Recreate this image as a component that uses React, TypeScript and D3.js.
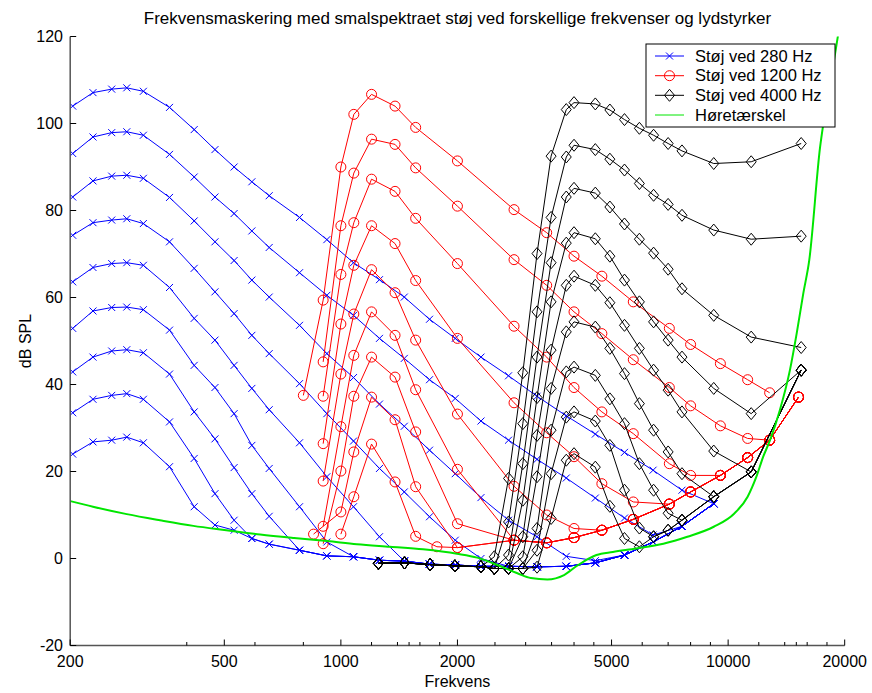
import React from "react";
import * as d3 from "d3";

// ---------- DATA ----------
const blueFreq = [203, 229, 256, 280, 309, 361, 418, 473, 530, 589, 653, 782, 920, 1078, 1258, 1458, 1694, 1974, 2300, 2710, 3210, 3820, 4540, 5400, 6400, 7600, 9180];
const blue108 = [104.0, 107.1, 107.9, 108.2, 107.4, 103.7, 98.6, 94.0, 90.0, 86.6, 83.4, 78.4, 73.3, 68.0, 64.1, 60.1, 55.0, 50.6, 46.3, 42.0, 37.3, 32.8, 28.6, 24.4, 20.3, 15.7, 12.6];
const blue98 = [93.1, 96.9, 97.9, 98.1, 97.3, 92.9, 87.7, 83.1, 79.3, 75.3, 71.5, 65.7, 60.5, 55.9, 50.6, 46.0, 41.1, 36.8, 31.6, 27.2, 22.8, 18.5, 13.9, 9.3, 5.4, 7.4, 12.6];
const blue88 = [83.1, 86.8, 87.9, 88.1, 87.4, 83.0, 77.6, 72.8, 68.5, 64.0, 60.1, 53.6, 47.1, 41.6, 35.5, 30.4, 24.9, 19.5, 14.0, 8.8, 5.0, 0.5, -0.5, 0.8, 3.8, 7.4, 12.6];
const blue78 = [74.3, 77.2, 77.8, 78.1, 77.0, 72.8, 66.7, 61.3, 56.3, 51.3, 47.1, 40.2, 33.3, 27.0, 20.7, 15.3, 9.6, 4.2, 0.0, -1.8, -1.9, -1.8, -1.0, 0.8, 3.8, 7.4, 12.6];
const blue68 = [63.6, 66.9, 67.8, 68.0, 67.4, 62.3, 55.2, 50.2, 44.4, 39.1, 34.2, 26.6, 18.8, 11.9, 5.0, -0.6, -1.3, -1.5, -1.8, -1.8, -1.9, -1.8, -1.0, 0.8, 3.8, 7.4, 12.6];
const blue58 = [52.9, 56.9, 57.7, 57.8, 57.2, 52.5, 44.4, 39.3, 33.3, 26.0, 20.7, 11.9, 3.8, 0.4, -0.4, -0.6, -1.3, -1.5, -1.8, -1.8, -1.9, -1.8, -1.0, 0.8, 3.8, 7.4, 12.6];
const blue48 = [42.9, 46.3, 47.7, 48.0, 47.3, 42.4, 33.7, 27.5, 20.9, 14.9, 9.7, 1.9, 0.6, 0.4, -0.4, -0.6, -1.3, -1.5, -1.8, -1.8, -1.9, -1.8, -1.0, 0.8, 3.8, 7.4, 12.6];
const blue38 = [33.5, 36.6, 37.5, 37.9, 36.6, 31.4, 23.0, 14.9, 8.8, 4.6, 3.3, 1.9, 0.6, 0.4, -0.4, -0.6, -1.3, -1.5, -1.8, -1.8, -1.9, -1.8, -1.0, 0.8, 3.8, 7.4, 12.6];
const blue28 = [24.0, 26.8, 27.2, 27.9, 26.6, 21.1, 11.9, 7.7, 6.5, 4.6, 3.3, 1.9, 0.6, 0.4, -0.4, -0.6, -1.3, -1.5, -1.8, -1.8, -1.9, -1.8, -1.0, 0.8, 3.8, 7.4, 12.6];

const redFreq = [800, 850, 900, 1000, 1080, 1200, 1380, 1560, 1770, 2000, 2800, 3400, 4000, 4720, 5690, 7050, 8000, 9550, 11230, 12800, 15200];
const red106 = [37.5, null, 59.4, 90.0, 102.1, 106.7, 104.0, 99.1, null, 91.4, 80.2, 74.9, 69.5, 64.9, 59.0, 52.9, 49.2, 44.8, 41.1, 38.1, null];
const red96 = [null, null, 45.2, 76.5, 88.6, 96.4, 95.2, 89.8, null, 81.0, 68.7, 62.8, 56.7, 51.7, 45.7, 39.3, 35.1, 30.5, 27.6, 27.2, 37.1];
const red86 = [null, null, 37.3, 65.3, 77.2, 87.2, 84.4, 78.2, null, 67.8, 53.4, 46.3, 39.3, 33.7, 28.7, 21.8, 19.1, 19.1, 23.2, 27.2, 37.1];
const red76 = [null, null, 26.4, 53.9, 67.4, 76.5, 72.4, 63.9, null, 50.6, 35.8, 28.9, 23.4, 17.2, 13.0, 12.5, 15.3, 19.1, 23.2, 27.2, 37.1];
const red66 = [null, null, 17.8, 42.4, 56.2, 66.4, 61.1, 50.2, null, 33.2, 16.6, 10.0, 6.9, 6.5, 9.0, 12.5, 15.3, 19.1, 23.2, 27.2, 37.1];
const red56 = [null, null, 7.4, 30.3, 46.7, 56.7, 51.3, 38.8, null, 20.5, 4.2, 3.6, 4.8, 6.5, 9.0, 12.5, 15.3, 19.1, 23.2, 27.2, 37.1];
const red46 = [null, null, 3.4, 20.1, 37.3, 46.3, 41.7, 29.1, null, 8.0, 4.2, 3.6, 4.8, 6.5, 9.0, 12.5, 15.3, 19.1, 23.2, 27.2, 37.1];
const red36 = [null, 5.6, null, 10.7, 24.5, 37.1, 31.9, 16.5, null, 2.5, 4.2, 3.6, 4.8, 6.5, 9.0, 12.5, 15.3, 19.1, 23.2, 27.2, 37.1];
const red26 = [null, null, null, 5.6, 14.2, 26.3, 17.6, 5.1, 2.7, 2.5, 4.2, 3.6, 4.8, 6.5, 9.0, 12.5, 15.3, 19.1, 23.2, 27.2, 37.1];

const blackFreq = [1250, 1460, 1700, 1970, 2300, 2490, 2710, 2950, 3210, 3490, 3820, 4000, 4540, 4950, 5400, 5900, 6420, 7000, 7600, 9180, 11470, 15440];
const black105 = [-1.1, -1.0, -1.4, -1.7, -1.9, 0.4, 18.4, 42.7, 70.1, 92.5, 103.2, 104.8, 104.5, 103.1, 100.9, 98.9, 97.3, 95.4, 93.7, 90.8, 91.2, 95.4];
const black95 = [-1.1, -1.0, -1.4, -1.7, -1.9, -2.3, 8.4, 31.0, 56.7, 78.4, 92.3, 95.0, 94.0, 91.8, 89.3, 86.2, 83.5, 81.4, 78.9, 75.5, 73.4, 74.1];
const black85 = [-1.1, -1.0, -1.4, -1.7, -1.9, -2.3, 0.8, 21.8, 46.3, 68.0, 83.1, 85.1, 84.0, 80.8, 76.9, 73.4, 70.2, 66.5, 62.0, 55.9, 50.9, 48.5];
const black75 = [-1.1, -1.0, -1.4, -1.7, -1.9, -2.3, -2.3, 13.4, 37.0, 59.0, 72.5, 74.9, 73.5, 69.5, 64.0, 59.0, 54.4, 50.2, 46.3, 39.1, 33.3, 43.3];
const black65 = [-1.1, -1.0, -1.4, -1.7, -1.9, -2.3, -2.3, 5.0, 28.3, 47.9, 62.8, 64.9, 62.8, 58.8, 53.6, 48.3, 43.3, 38.7, 33.7, 24.7, 19.9, 43.3];
const black54 = [-1.1, -1.0, -1.4, -1.7, -1.9, -2.3, -2.3, 0.4, 18.8, 39.1, 52.1, 54.4, 53.2, 48.3, 42.5, 35.6, 29.5, 24.5, 19.5, 14.2, 19.9, 43.3];
const black44 = [-1.1, -1.0, -1.4, -1.7, -1.9, -2.3, -2.3, -2.3, 6.9, 29.5, 42.9, 44.0, 42.1, 36.7, 31.0, 21.8, 15.7, 10.4, 8.8, 14.2, 19.9, 43.3];
const black34 = [-1.1, -1.0, -1.4, -1.7, -1.9, -2.3, -2.3, -2.3, 1.9, 19.5, 32.5, 33.7, 31.6, 26.0, 15.7, 7.0, 5.0, 6.5, 8.8, 14.2, 19.9, 43.3];
const black24 = [-1.1, -1.0, -1.4, -1.7, -1.9, -2.3, -2.3, -2.3, -2.0, 9.2, 22.6, 24.1, 21.0, 12.0, 4.6, 2.7, 5.0, 6.5, 8.8, 14.2, 19.9, 43.3];

const threshFreq = [200, 229, 280, 341, 416, 506, 619, 757, 922, 1100, 1339, 1630, 1994, 2251, 2537, 2857, 3094, 3414, 3770, 4084, 4569, 5040, 5796, 6806, 7847, 9180, 10360, 11230, 11830, 12320, 12830, 13600, 14440, 15030, 15640, 16200, 17280, 17620, 18570, 19280];
const threshVal = [13.2, 11.9, 10.2, 8.8, 7.5, 6.5, 5.5, 4.7, 4.0, 3.3, 2.7, 2.1, 1.1, 0.2, -1.5, -3.4, -4.5, -4.8, -3.8, -1.6, 0.8, 1.5, 2.3, 3.4, 5.0, 7.3, 10.3, 14.2, 18.8, 23.4, 27.2, 34.1, 43.3, 51.7, 61.0, 68.6, 94.6, 100.0, 112.0, 121.0];

const xMajorTicks = [200, 500, 1000, 2000, 5000, 10000, 20000];
const xMinorTicks = [400, 600, 800, 1200, 1400, 1500, 1600, 1800, 2500, 3000, 3500, 4000, 4500, 6000, 7000, 8000, 9000, 12000, 14000, 15000, 16000, 18000];
const yTicks = [-20, 0, 20, 40, 60, 80, 100, 120];

const titleText = "Frekvensmaskering med smalspektraet støj ved forskellige frekvenser og lydstyrker";
const xLabel = "Frekvens";
const yLabel = "dB SPL";
const legendLabels = ["Støj ved 280 Hz", "Støj ved 1200 Hz", "Støj ved 4000 Hz", "Høretærskel"];

// ---------- LAYOUT ----------
const W = 872;
const H = 693;
const x = d3.scaleLog().domain([200, 20000]).range([70.2, 844.7]);
const y = d3.scaleLinear().domain([-20, 120]).range([645.5, 36.5]);
const FONT = "'Liberation Sans', Arial, Helvetica, sans-serif";

type Pt = [number, number];
const mk = (fs: number[], vs: (number | null)[]): Pt[] =>
  fs.map((f, i) => [f, vs[i]] as [number, number | null]).filter((d) => d[1] !== null) as Pt[];

const lineGen = d3
  .line<Pt>()
  .x((d) => x(d[0]))
  .y((d) => y(d[1]));

const blueSeries = [blue108, blue98, blue88, blue78, blue68, blue58, blue48, blue38, blue28].map((v) => mk(blueFreq, v));
const redSeries = [red106, red96, red86, red76, red66, red56, red46, red36, red26].map((v) => mk(redFreq, v));
const blackSeries = [black105, black95, black85, black75, black65, black54, black44, black34, black24].map((v) => mk(blackFreq, v));
const threshSeries = mk(threshFreq, threshVal);

const XMark = ({ cx, cy, color }: { cx: number; cy: number; color: string }) => (
  <path d={`M${cx - 3.5},${cy - 3.5}L${cx + 3.5},${cy + 3.5}M${cx - 3.5},${cy + 3.5}L${cx + 3.5},${cy - 3.5}`} stroke={color} strokeWidth={1} fill="none" />
);
const OMark = ({ cx, cy, color }: { cx: number; cy: number; color: string }) => (
  <circle cx={cx} cy={cy} r={5} stroke={color} strokeWidth={1} fill="none" />
);
const DMark = ({ cx, cy, color }: { cx: number; cy: number; color: string }) => (
  <path d={`M${cx},${cy - 6}L${cx + 5},${cy}L${cx},${cy + 6}L${cx - 5},${cy}Z`} stroke={color} strokeWidth={1} fill="none" />
);

function Family({ series, color, Marker }: { series: Pt[][]; color: string; Marker: any }) {
  return (
    <g>
      {series.map((s, i) => (
        <g key={i}>
          <path d={lineGen(s) || ""} stroke={color} strokeWidth={1} fill="none" />
          {s.map((d, j) => (
            <Marker key={j} cx={x(d[0])} cy={y(d[1])} color={color} />
          ))}
        </g>
      ))}
    </g>
  );
}

export default function App() {
  const threshLine = d3
    .line<Pt>()
    .x((d) => x(d[0]))
    .y((d) => y(d[1]))
    .curve(d3.curveMonotoneX)(threshSeries);

  const x0 = x(200);
  const x1 = x(20000);
  const yb = y(-20);
  const yt = y(120);

  const legX = 646;
  const legY = 44;
  const legW = 189;
  const legH = 83;
  const rowY = [56, 75.7, 95.3, 115];

  return (
    <svg width={W} height={H} style={{ position: "absolute", left: 0, top: 0, background: "#fff" }} fontFamily={FONT}>
      <rect x={0} y={0} width={W} height={H} fill="#fff" />
      <defs>
        <clipPath id="plotclip">
          <rect x={x0} y={yt} width={x1 - x0} height={yb - yt} />
        </clipPath>
      </defs>

      <text x={(x0 + x1) / 2} y={24} textAnchor="middle" fontSize={17} fill="#000">
        {titleText}
      </text>

      <g clipPath="url(#plotclip)">
        <Family series={blueSeries} color="#0000ff" Marker={XMark} />
        <Family series={redSeries} color="#ff0000" Marker={OMark} />
        <Family series={blackSeries} color="#000000" Marker={DMark} />
        <path d={threshLine || ""} stroke="#00e600" strokeWidth={2} fill="none" />
      </g>

      <line x1={x0} y1={yb} x2={x1} y2={yb} stroke="#555" strokeWidth={1.5} />
      <line x1={x0} y1={yb} x2={x0} y2={yt} stroke="#555" strokeWidth={1.5} />
      {xMajorTicks.map((t) => (
        <g key={"xM" + t}>
          <line x1={x(t)} x2={x(t)} y1={yb} y2={yb - 6} stroke="#000" strokeWidth={1} />
          <text x={x(t)} y={667} textAnchor="middle" fontSize={16} fill="#000">
            {t}
          </text>
        </g>
      ))}
      {xMinorTicks.map((t) => (
        <line key={"xm" + t} x1={x(t)} x2={x(t)} y1={yb} y2={yb - 3.5} stroke="#000" strokeWidth={1} />
      ))}
      {yTicks.map((t) => (
        <g key={"y" + t}>
          <line x1={x0} x2={x0 + 6} y1={y(t)} y2={y(t)} stroke="#000" strokeWidth={1} />
          <text x={63} y={y(t)} dy="0.35em" textAnchor="end" fontSize={16} fill="#000">
            {t}
          </text>
        </g>
      ))}
      <text x={(x0 + x1) / 2} y={687} textAnchor="middle" fontSize={16} fill="#000">
        {xLabel}
      </text>
      <text transform={`translate(31,${(yt + yb) / 2}) rotate(-90)`} textAnchor="middle" fontSize={16} fill="#000">
        {yLabel}
      </text>

      <g>
        <rect x={legX} y={legY} width={legW} height={legH} fill="#fff" stroke="#000" strokeWidth={1} />
        {legendLabels.map((lab, i) => {
          const color = ["#0000ff", "#ff0000", "#000000", "#00e600"][i];
          const cy = rowY[i];
          return (
            <g key={lab}>
              <line x1={655} x2={684} y1={cy} y2={cy} stroke={color} strokeWidth={1} />
              {i === 0 && <XMark cx={669.5} cy={cy} color={color} />}
              {i === 1 && <OMark cx={669.5} cy={cy} color={color} />}
              {i === 2 && <DMark cx={669.5} cy={cy} color={color} />}
              <text x={695} y={cy} dy="0.35em" fontSize={16.5} fill="#000">
                {lab}
              </text>
            </g>
          );
        })}
      </g>
    </svg>
  );
}
